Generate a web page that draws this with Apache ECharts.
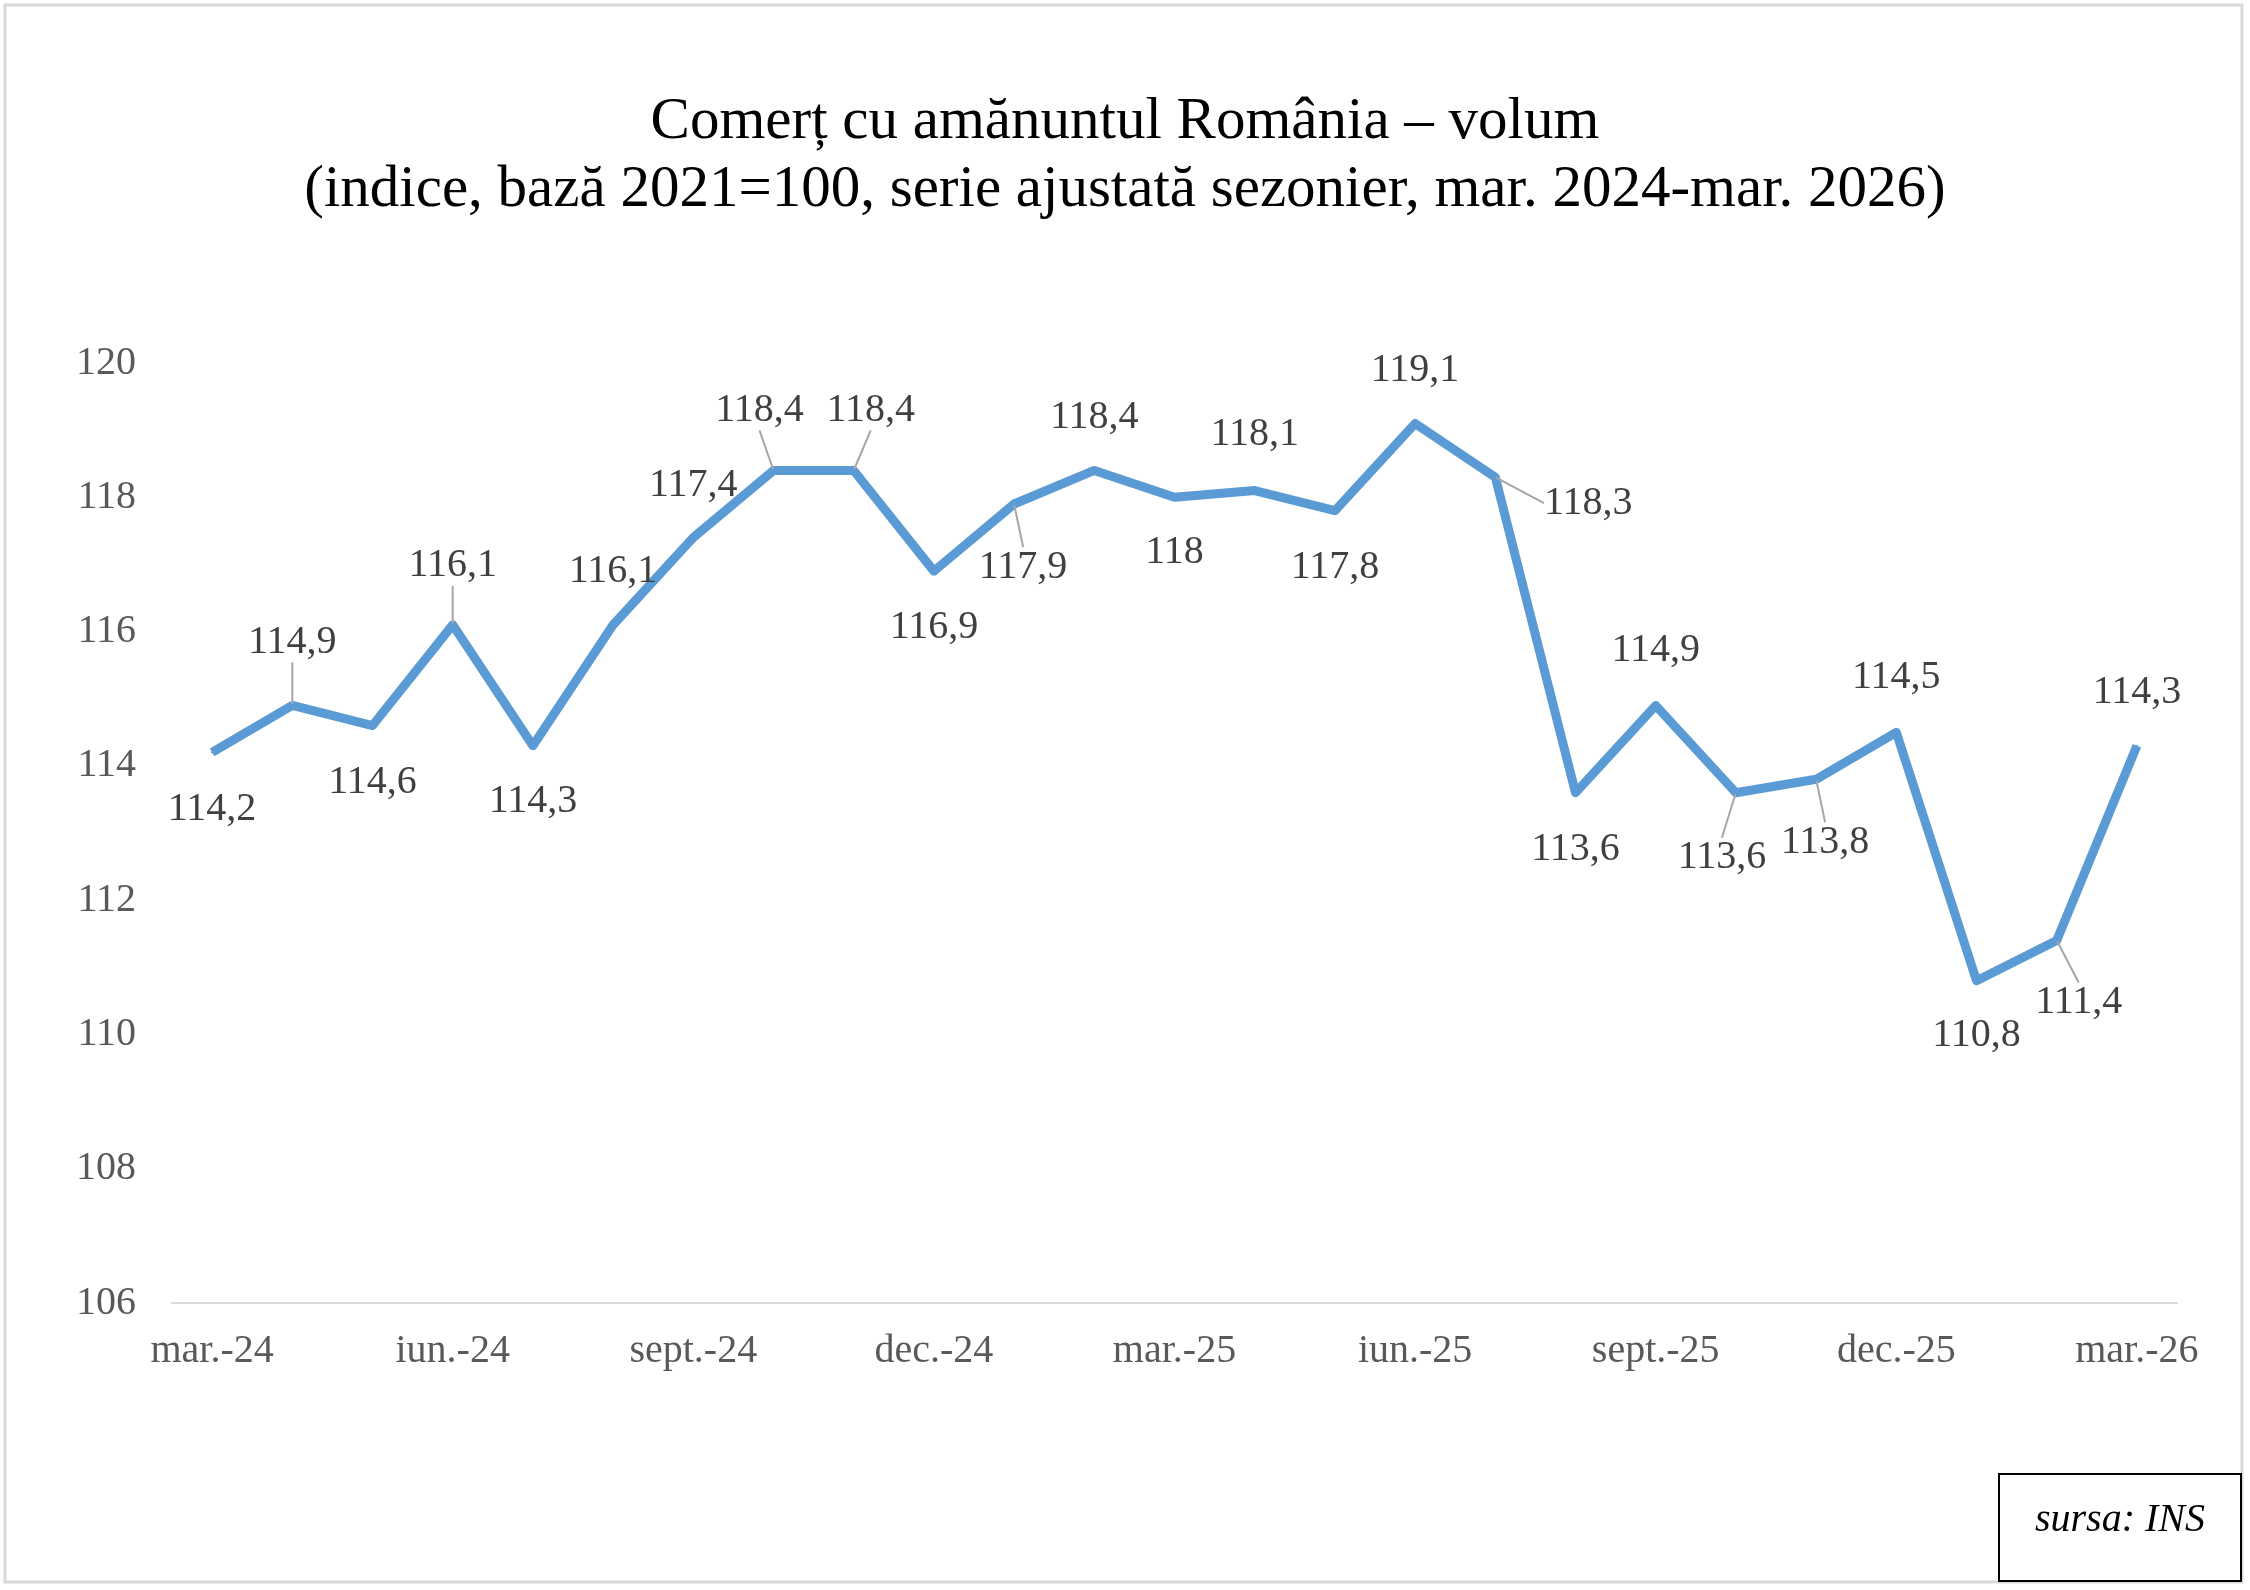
<!DOCTYPE html>
<html>
<head>
<meta charset="utf-8">
<title>Comert cu amanuntul Romania</title>
<script src="https://cdn.jsdelivr.net/npm/echarts@6/dist/echarts.min.js"></script>
<style>
    html, body { margin: 0; padding: 0; background: #fff; }
    #chart { width: 2250px; height: 1590px; }
</style>
</head>
<body>
<div id="chart"></div>
<script>
    var months = ['mar.-24', 'apr.-24', 'mai-24', 'iun.-24', 'iul.-24', 'aug.-24', 'sept.-24', 'oct.-24', 'nov.-24', 'dec.-24',
        'ian.-25', 'feb.-25', 'mar.-25', 'apr.-25', 'mai-25', 'iun.-25', 'iul.-25', 'aug.-25', 'sept.-25', 'oct.-25',
        'nov.-25', 'dec.-25', 'ian.-26', 'feb.-26', 'mar.-26'];
    var volumeIndex = [114.2, 114.9, 114.6, 116.1, 114.3, 116.1, 117.4, 118.4, 118.4, 116.9,
        117.9, 118.4, 118, 118.1, 117.8, 119.1, 118.3, 113.6, 114.9, 113.6,
        113.8, 114.5, 110.8, 111.4, 114.3];
    var yTicks = [106, 108, 110, 112, 114, 116, 118, 120];

    // label placement (px from the point), like the Excel original
    var labelShift = [
        [0, 57], [0, -63], [0, 57], [0, -59], [0, 56], [0, -53], [0, -52], [-14, -60], [17, -60], [0, 56],
        [9, 63], [0, -53], [0, 55], [0, -56], [0, 57], [0, -53], [93, 26], [0, 57], [0, -55], [-14, 65],
        [9, 63], [0, -55], [0, 55], [22, 62], [0, -53]
    ];
    var withLeader = [1, 3, 7, 8, 10, 16, 19, 20, 23];

    var serif = '"Liberation Serif", "Times New Roman", serif';

    var seriesData = volumeIndex.map(function (v, i) {
        return {
            value: v,
            labelLine: { show: withLeader.indexOf(i) >= 0 }
        };
    });

    var chart = echarts.init(document.getElementById('chart'));
    chart.setOption({
        backgroundColor: '#fff',
        animation: false,
        title: {
            text: 'Comerț cu amănuntul România – volum\n(indice, bază 2021=100, serie ajustată sezonier, mar. 2024-mar. 2026)',
            left: 'center',
            top: 83,
            textStyle: {
                fontFamily: serif,
                fontSize: 59,
                fontWeight: 'normal',
                color: '#000',
                lineHeight: 68
            }
        },
        grid: {
            left: 172,
            right: 73,
            top: 363,
            bottom: 287
        },
        xAxis: {
            type: 'category',
            data: months,
            boundaryGap: true,
            axisLine: { lineStyle: { color: '#d9d9d9', width: 2 } },
            axisTick: { show: false },
            axisLabel: {
                interval: 2,
                margin: 28,
                fontFamily: serif,
                fontSize: 40,
                color: '#595959'
            }
        },
        yAxis: {
            type: 'value',
            min: yTicks[0],
            max: yTicks[yTicks.length - 1],
            interval: 2,
            axisLine: { show: false },
            axisTick: { show: false },
            splitLine: { show: false },
            axisLabel: {
                margin: 36,
                fontFamily: serif,
                fontSize: 40,
                color: '#595959'
            }
        },
        series: [
            {
                name: 'volum',
                type: 'line',
                data: seriesData,
                symbol: 'circle',
                symbolSize: 2,
                itemStyle: { color: '#5b9bd5' },
                lineStyle: { color: '#5b9bd5', width: 9, join: 'round' },
                label: {
                    show: true,
                    position: 'inside',
                    fontFamily: serif,
                    fontSize: 40,
                    color: '#404040',
                    formatter: function (p) {
                        return String(p.value).replace('.', ',');
                    }
                },
                labelLine: {
                    lineStyle: { color: '#a6a6a6', width: 2 }
                },
                labelLayout: function (p) {
                    var s = labelShift[p.dataIndex];
                    return { dx: s[0], dy: s[1] };
                }
            }
        ],
        graphic: [
            {
                type: 'rect',
                shape: { x: 5, y: 5, width: 2237, height: 1577 },
                style: { fill: 'none', stroke: '#d9d9d9', lineWidth: 3 },
                silent: true
            },
            {
                type: 'rect',
                shape: { x: 1999, y: 1474, width: 242, height: 107 },
                style: { fill: '#fff', stroke: '#000', lineWidth: 2 },
                silent: true
            },
            {
                type: 'text',
                x: 2120,
                y: 1520,
                style: {
                    text: 'sursa: INS',
                    font: 'italic 40px ' + serif,
                    fill: '#000',
                    align: 'center',
                    verticalAlign: 'middle'
                },
                silent: true
            }
        ]
    });
</script>
</body>
</html>
